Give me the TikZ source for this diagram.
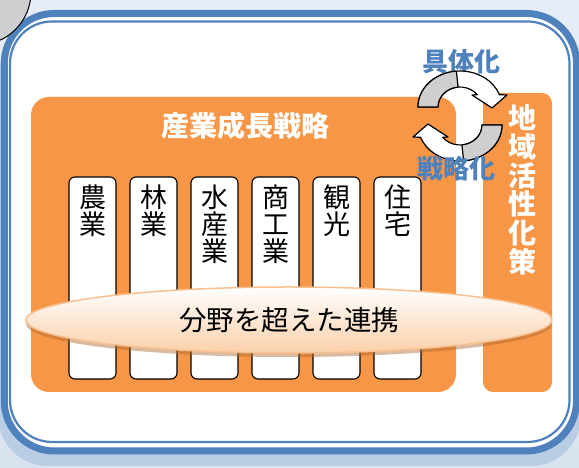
\documentclass[tikz,border=0pt]{standalone}
\usepackage{fontspec}
\setmainfont{Noto Sans CJK JP}
\usetikzlibrary{shapes.geometric, shadows, positioning}
\definecolor{frameblue}{HTML}{4F81BD}
\definecolor{bgtop}{HTML}{E6EDF6}
\definecolor{bgbottom}{HTML}{D9E3F0}
\definecolor{shadowblue}{HTML}{B9CDE5}
\definecolor{accorange}{HTML}{F79646}
\definecolor{ovalrim}{HTML}{F9C08F}
\definecolor{ovalbottom}{HTML}{FBD0AA}
\definecolor{arrowgrey}{HTML}{CFCFCF}
\tikzstyle{orangebox}=[fill=accorange,rounded corners=18pt,inner sep=0pt]
\tikzstyle{sector}=[draw=black,line width=1.1pt,fill=white,rounded corners=6pt,minimum width=47pt,minimum height=202pt,inner sep=0pt]
\tikzstyle{sectorlabel}=[font=\fontsize{27}{27}\selectfont,align=center,inner sep=0pt,anchor=north]
\tikzstyle{titletext}=[text=white,font=\bfseries\fontsize{28}{28.7}\selectfont,align=center,inner sep=0pt]
\tikzstyle{cyclelabel}=[text=frameblue,font=\bfseries\fontsize{26}{26}\selectfont,inner sep=0pt]
\tikzstyle{linkoval}=[ellipse,draw=ovalrim,line width=1.5pt,top color=white,bottom color=ovalbottom,minimum width=526pt,minimum height=66pt,inner sep=0pt,font=\fontsize{27.5}{27.5}\selectfont,drop shadow={shadow xshift=0pt,shadow yshift=-4pt,fill=accorange!70!black,opacity=0.45}]
\tikzstyle{cyclearrow}=[draw=black,line width=1.2pt,line join=round]
\newcommand{\halfcycle}{%
  \draw[cyclearrow,fill=white] (418,361) arc[start angle=180,end angle=20,x radius=42,y radius=36]
    -- (507,373) -- (492,360) -- (472,373) -- (477.3,373.3)
    arc[start angle=38,end angle=180,x radius=22,y radius=20] -- cycle;
  \draw[cyclearrow,fill=arrowgrey] (418,361) arc[start angle=180,end angle=95,x radius=42,y radius=36]
    -- (458.1,380.9) arc[start angle=95,end angle=180,x radius=22,y radius=20] -- cycle;
}

\begin{document}
\begin{tikzpicture}[x=1pt,y=1pt]
  \useasboundingbox (0,0) rectangle (579,468);
  \shade[top color=bgtop,bottom color=bgbottom] (0,0) rectangle (579,468);
  \fill[shadowblue,rounded corners=50pt] (-2,2) rectangle (581,440);
  \draw[frameblue,line width=7pt,fill=white,rounded corners=50pt] (4.3,17) rectangle (576.5,454.5);
  \draw[frameblue,line width=2.2pt,rounded corners=42pt] (10,26) rectangle (569.5,446.5);
  \draw[fill=arrowgrey,line width=1pt] (-22,476) circle (53);

  \node[orangebox,minimum width=425pt,minimum height=295pt] (industry) at (243.5,223.5) {};
  \node[orangebox,rounded corners=10pt,minimum width=69pt,minimum height=299pt] (region) at (517.5,225.5) {};
  \node[titletext] (industrytitle) at (245,342) {産業成長戦略};
  \node[titletext] (regiontitle) at (522,278) {地\\域\\活\\性\\化\\策};

  \foreach \name/\txt [count=\i from 0] in {agri/{農\\業},forest/{林\\業},fishery/{水\\産\\業},commerce/{商\\工\\業},tourism/{観\\光},housing/{住\\宅}}
  {
    \node[sector] (\name) at (92.5+61*\i,190) {};
    \node[sectorlabel] at ([yshift=-8pt]\name.north) {\txt};
  }

  \node[linkoval] (link) at (289,148) {分野を超えた連携};

  \node[cyclelabel] (concrete) at (461,406) {具体化};
  \halfcycle
  \begin{scope}[rotate around={180:(460,352)}]
    \halfcycle
  \end{scope}
  \node[cyclelabel] (strategic) at (456,299) {戦略化};
\end{tikzpicture}
\end{document}
